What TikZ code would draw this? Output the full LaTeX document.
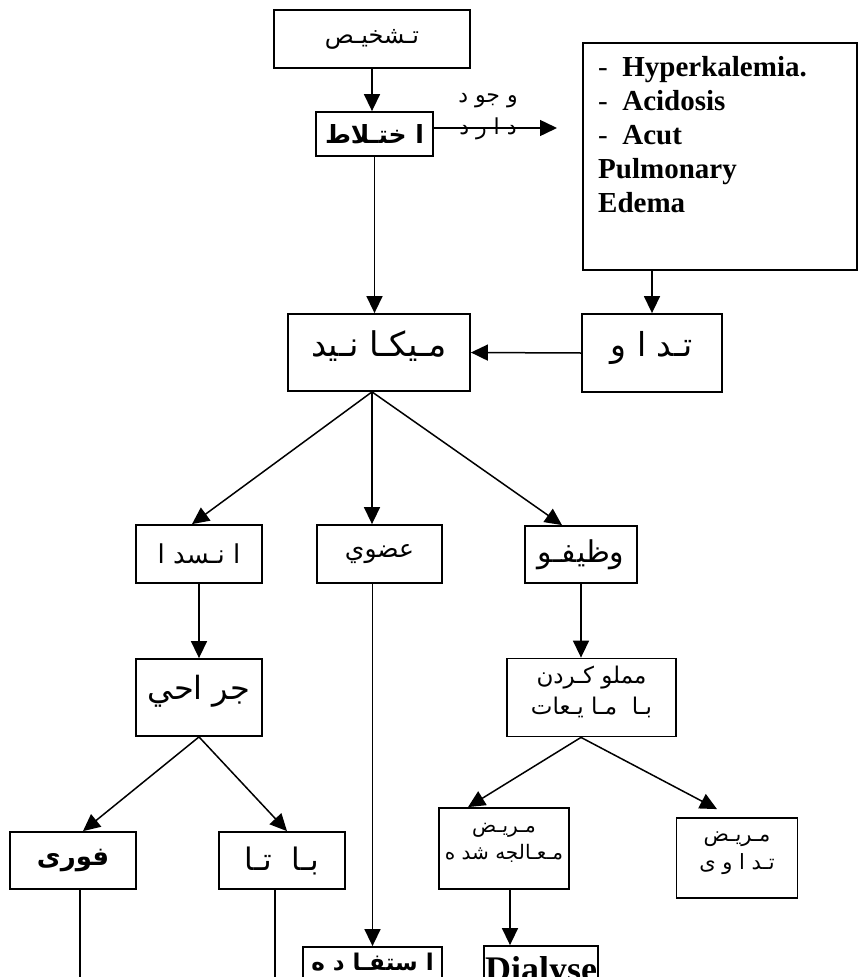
\documentclass[tikz,border=0pt]{standalone}
\usepackage{fontspec}
\setmainfont{Liberation Serif}
\newfontfamily\ar[Script=Arabic]{DejaVu Sans}
\TeXXeTstate=1
\usetikzlibrary{arrows.meta}
\newcommand\RL[1]{\beginR #1\endR}
\newcommand\fsz[1]{\fontsize{#1}{\the\numexpr #1*4/3\relax}\selectfont}
\tikzset{
  bx/.style={draw, line width=1.8pt, inner sep=0pt, align=center},
  con/.style={line width=1.5pt, -{Triangle[length=17pt,width=16pt]}},
  ln/.style={line width=1.5pt},
  ars/.style={font=\ar\fsz{#1}},
  arb/.style={font=\ar\bfseries\fsz{#1}},
}
\begin{document}
\begin{tikzpicture}[x=1pt,y=-1pt]
\useasboundingbox (0,0) rectangle (860,977);
\clip (0,0) rectangle (860,977);

% boxes
\node[bx, ars=24, minimum width=196pt, minimum height=58pt] (tashkhis) at (372,39) {\RL{تـشخيـص}};
\node[bx, arb=25, minimum width=117pt, minimum height=44pt] (ikhtilat) at (374.5,134) {\RL{ا ختـلاط}};
\node[bx, minimum width=274pt, minimum height=227pt] (big) at (720,156.5) {};
\node[anchor=north west, align=left, font=\fontsize{29}{34}\selectfont, inner sep=0pt] (bigtext) at (598,56)
  {-\ \ \textbf{Hyperkalemia.}\\-\ \ \textbf{Acidosis}\\-\ \ \textbf{Acut}\\\textbf{Pulmonary}\\\textbf{Edema}};
\node[bx, ars=34, minimum width=182pt, minimum height=77pt, text depth=18pt] (mech) at (379,352.5) {\RL{مـيكـا نـيد}};
\node[bx, ars=33, minimum width=140pt, minimum height=78pt, text depth=18pt] (tadavi) at (652,353) {\RL{تـد ا و}};
\node[bx, ars=26, minimum width=126pt, minimum height=58pt] (ensedad) at (199,554) {\RL{ا نـسد ا}};
\node[bx, ars=25, minimum width=125pt, minimum height=58pt] (ozvi) at (379.5,554) {\RL{عضوي}};
\node[bx, ars=30, minimum width=112pt, minimum height=57pt] (vazifei) at (581,554.5) {\RL{وظيفـو}};
\node[bx, ars=32, minimum width=126pt, minimum height=77pt, text depth=20pt] (jarahi) at (199,697.5) {\RL{جر احي}};
\node[bx, ars=23, minimum width=169pt, minimum height=78pt, text depth=14pt] (mamlu) at (591.5,697.5) {\RL{مملو کـردن}\\\RL{بـا\ \ مـا يـعات}};
\node[bx, ars=20, minimum width=130pt, minimum height=81pt, text depth=14pt] (moalje) at (504,848.5) {\RL{مـريـض}\\\RL{مـعـالجه شد ه}};
\node[bx, ars=21, minimum width=121pt, minimum height=80pt, text depth=14pt] (tadavi2) at (737,858) {\RL{مـريـض}\\\RL{تـد ا و ی}};
\node[bx, arb=26, minimum width=126pt, minimum height=57pt] (fori) at (73,860.5) {\RL{فوری}};
\node[bx, ars=31, minimum width=126pt, minimum height=57pt] (bata) at (282,860.5) {\RL{بـا\ \ تـا}};
\node[bx, arb=23, minimum width=139pt, minimum height=66pt, text depth=36pt] (estefade) at (372.5,980) {\RL{ا ستفـا د ه}};
\node[bx, font=\bfseries\fontsize{36}{40}\selectfont, minimum width=114pt, minimum height=68pt, text depth=22pt] (dialyse) at (541,980) {Dialyse};

% labels on the arrow
\node[ars=22, inner sep=0pt] (wojud) at (488,101) {\RL{و جو د}};
\node[ars=22, inner sep=0pt] (darad) at (488,129) {\RL{د ا ر د}};

% coordinates for free ends
\coordinate (wend) at (557,128);
\coordinate (floor) at (0,990);

% connectors
\draw[con] (tashkhis.south) -- (tashkhis.south |- ikhtilat.north);
\draw[con] ([yshift=6pt]ikhtilat.east) -- (wend);
\draw[con] (ikhtilat.south) -- (ikhtilat.south |- mech.north);
\draw[con] (tadavi.north |- big.south) -- (tadavi.north);
\draw[con] (tadavi.west) -- (mech.east);
\coordinate (mb) at ([xshift=-7pt]mech.south);
\draw[con] (mb) -- ([xshift=-7pt]ensedad.north);
\draw[con] (mb) -- (mb |- ozvi.north);
\draw[con] (mb) -- ([xshift=-19pt]vazifei.north);
\draw[con] (ensedad.south) -- (jarahi.north);
\draw[con] (ozvi.south -| estefade.north) -- (estefade.north);
\draw[con] (vazifei.south) -- (vazifei.south |- mamlu.north);
\coordinate (mm) at (vazifei.south |- mamlu.south);
\draw[con] (mm) -- ([xshift=-36pt]moalje.north);
\draw[con] (mm) -- ([xshift=-20pt,yshift=8pt]tadavi2.north);
\draw[con] ([xshift=6pt]moalje.south) -- ([xshift=6pt]moalje.south |- dialyse.north);
\draw[con] (jarahi.south) -- ([xshift=10pt]fori.north);
\draw[con] (jarahi.south) -- ([xshift=5pt]bata.north);
\draw[ln] ([xshift=7pt]fori.south) -- ([xshift=7pt]fori.south |- floor);
\draw[ln] ([xshift=-7pt]bata.south) -- ([xshift=-7pt]bata.south |- floor);
\end{tikzpicture}
\end{document}
